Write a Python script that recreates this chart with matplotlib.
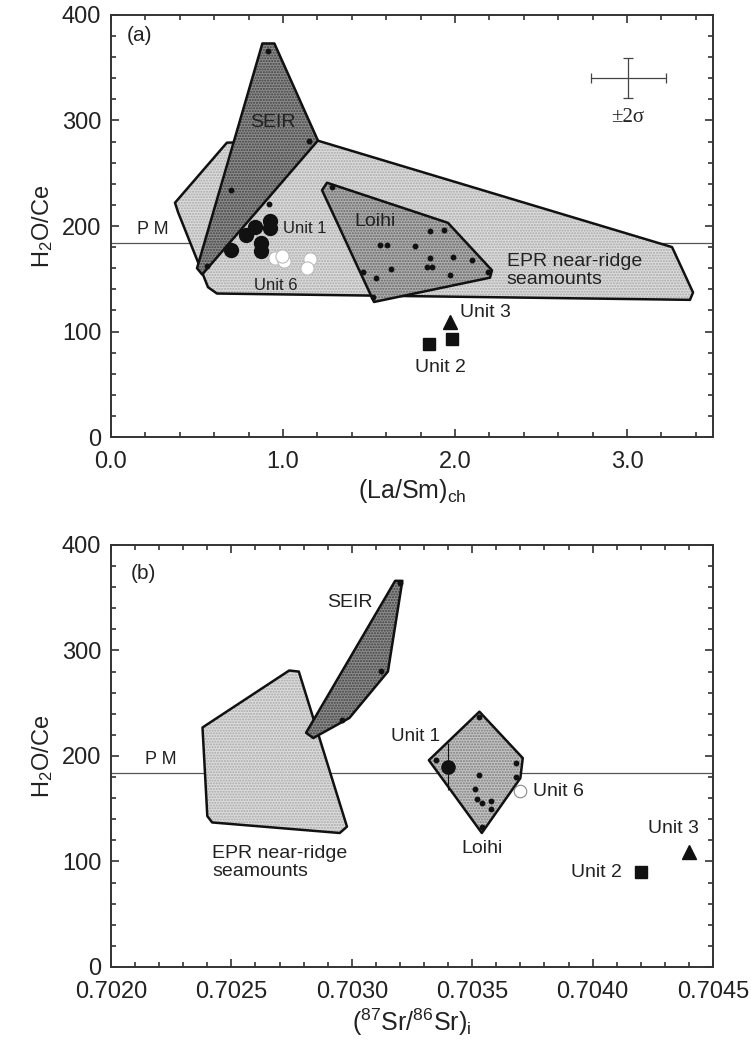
import numpy as np
import matplotlib
matplotlib.use("Agg")
import matplotlib.pyplot as plt
from matplotlib.patches import Polygon
from matplotlib.ticker import MultipleLocator, FormatStrFormatter

plt.rcParams["font.family"] = ["Liberation Sans", "DejaVu Sans"]
plt.rcParams["mathtext.fontset"] = "custom"
plt.rcParams["mathtext.rm"] = "Liberation Sans"
plt.rcParams["mathtext.it"] = "Liberation Sans:italic"
plt.rcParams["hatch.linewidth"] = 1.0

INK = "#222222"
PM = 184

# ---- panel (a): H2O/Ce vs (La/Sm)ch ----
a_epr_x = [0.674, 1.20, 3.262, 3.384, 3.366, 0.616, 0.564, 0.39, 0.372]
a_epr_y = [279, 281, 180, 137, 130, 136, 142, 213, 222]
a_seir_x = [0.88, 0.95, 1.203, 0.53, 0.50]
a_seir_y = [373, 373, 281, 154, 160]
a_loihi_x = [1.256, 1.959, 2.215, 2.203, 1.529, 1.227]
a_loihi_y = [241, 203, 158, 151, 128, 234]

a_seir_dot_x = [0.91, 1.15, 0.56, 0.70, 0.92]
a_seir_dot_y = [366, 281, 162, 234, 221]
a_loihi_dot_x = [1.855, 1.936, 1.564, 1.605, 1.767, 1.855, 1.988, 2.099, 1.837, 1.866,
                 1.628, 1.465, 1.541, 1.971, 2.192, 1.523, 1.285]
a_loihi_dot_y = [195, 196, 182, 182, 181, 170, 171, 168, 161, 161,
                 159, 156, 151, 154, 156, 133, 237]

a_unit1_x = [0.924, 0.924, 0.837, 0.785, 0.70, 0.872, 0.872]
a_unit1_y = [205, 198, 199, 191, 177, 184, 176]
a_unit6_x = [0.953, 1.006, 1.157, 1.14, 0.995]
a_unit6_y = [170, 167, 169, 160, 172]
a_unit2_x = [1.849, 1.983]
a_unit2_y = [88, 93]
a_unit3_x = [1.971]
a_unit3_y = [109]

# ---- panel (b): H2O/Ce vs (87Sr/86Sr)i ----
b_epr_x = [0.70238, 0.70274, 0.70278, 0.70298, 0.70295, 0.70242, 0.70240]
b_epr_y = [227, 281, 280, 133, 127, 137, 143]
b_seir_x = [0.70318, 0.70321, 0.70315, 0.70299, 0.70284, 0.70281]
b_seir_y = [366, 366, 280, 236, 217, 222]
b_loihi_x = [0.70353, 0.70371, 0.70370, 0.70354, 0.70332]
b_loihi_y = [242, 198, 179, 127, 196]

b_seir_dot_x = [0.70320, 0.70312, 0.70296]
b_seir_dot_y = [364, 281, 234]
b_loihi_dot_x = [0.70353, 0.70335, 0.70368, 0.70368, 0.70353, 0.70351, 0.70352,
                 0.70354, 0.70358, 0.70358, 0.70354]
b_loihi_dot_y = [237, 196, 193, 180, 182, 169, 159, 155, 157, 150, 133]

b_unit1_x, b_unit1_y, b_unit1_err = [0.70340], [190], [22]
b_unit6_x, b_unit6_y = [0.70370], [167]
b_unit2_x, b_unit2_y = [0.70420], [90]
b_unit3_x, b_unit3_y = [0.70440], [109]


def field(ax, xs, ys, face, dots, z):
    pts = np.column_stack([xs, ys])
    ax.add_patch(Polygon(pts, closed=True, facecolor=face, edgecolor=dots,
                         hatch="......", linewidth=0, zorder=z))
    ax.add_patch(Polygon(pts, closed=True, facecolor="none", edgecolor="#111111",
                         linewidth=1.8, joinstyle="round", zorder=z + 0.1))


def style(ax):
    ax.tick_params(which="both", direction="in", top=True, right=True,
                   labelsize=17, colors=INK, width=1.1)
    ax.tick_params(which="major", length=5.5)
    ax.tick_params(which="minor", length=3.8)
    ax.tick_params(axis="x", which="both", pad=10)
    ax.tick_params(axis="y", which="both", pad=7)
    ax.set_ylim(0, 400)
    ax.yaxis.set_major_locator(MultipleLocator(100))
    ax.yaxis.set_minor_locator(MultipleLocator(20))
    for s in ax.spines.values():
        s.set_linewidth(1.4)
        s.set_color("#333333")
    ax.axhline(PM, color="#555555", lw=0.9, zorder=1.5)
    ax.set_ylabel("H$_2$O/Ce", fontsize=17, color=INK, labelpad=5)


fig = plt.figure(figsize=(7.51, 10.48), dpi=100)
ax1 = fig.add_axes([0.1478, 0.583, 0.8016, 0.4027])
ax2 = fig.add_axes([0.1478, 0.0773, 0.8016, 0.4027])

# panel (a)
style(ax1)
ax1.set_xlim(0, 3.5)
ax1.xaxis.set_major_locator(MultipleLocator(1.0))
ax1.xaxis.set_minor_locator(MultipleLocator(0.2))
ax1.xaxis.set_major_formatter(FormatStrFormatter("%.1f"))
ax1.set_xlabel("(La/Sm)$_{\\rm ch}$", fontsize=18, color=INK, labelpad=3)

field(ax1, a_epr_x, a_epr_y, "#dcdcdc", "#a8a8a8", 2)
field(ax1, a_seir_x, a_seir_y, "#8c8c8c", "#404040", 3)
field(ax1, a_loihi_x, a_loihi_y, "#b0b0b0", "#646464", 3)
ax1.plot(a_seir_dot_x, a_seir_dot_y, "o", color="#111111", ms=3.2, zorder=5)
ax1.plot(a_loihi_dot_x, a_loihi_dot_y, "o", color="#111111", ms=3.2, zorder=5)
ax1.plot(a_unit1_x, a_unit1_y, "o", color="#111111", ms=10, zorder=6)
ax1.plot(a_unit6_x, a_unit6_y, "o", mfc="white", mec="#bbbbbb", mew=0.8, ms=9.5, zorder=6)
ax1.plot(a_unit2_x, a_unit2_y, "s", color="#111111", ms=9, zorder=6)
ax1.plot(a_unit3_x, a_unit3_y, "^", color="#111111", ms=10, zorder=6)

# 2-sigma error cross
ax1.errorbar([3.006], [340], xerr=[0.218], yerr=[19], fmt="none",
             ecolor="#444444", elinewidth=0.9, capsize=3.5, capthick=0.9)
ax1.text(3.006, 303, "±2σ", fontsize=15, ha="center", va="center", color=INK,
         family=["Liberation Serif", "DejaVu Serif"])

ax1.text(0.093, 381, "(a)", fontsize=15, ha="left", va="center", color=INK)
ax1.text(0.15, 197, "P M", fontsize=13, ha="left", va="center", color=INK)
ax1.text(0.942, 298, "SEIR", fontsize=14, ha="center", va="center", color=INK, zorder=7)
ax1.text(1.535, 204, "Loihi", fontsize=14, ha="center", va="center", color=INK, zorder=7)
ax1.text(1.0, 198, "Unit 1", fontsize=12, ha="left", va="center", color=INK, zorder=7)
ax1.text(0.96, 144, "Unit 6", fontsize=12, ha="center", va="center", color=INK, zorder=7)
ax1.text(2.30, 158, "EPR near-ridge\nseamounts", fontsize=14, ha="left", va="center",
         color=INK, linespacing=1.05, zorder=7)
ax1.text(2.03, 118, "Unit 3", fontsize=14, ha="left", va="center", color=INK)
ax1.text(1.913, 66, "Unit 2", fontsize=14, ha="center", va="center", color=INK)

# panel (b)
style(ax2)
ax2.set_xlim(0.7020, 0.7045)
ax2.xaxis.set_major_locator(MultipleLocator(0.0005))
ax2.xaxis.set_minor_locator(MultipleLocator(0.0001))
ax2.xaxis.set_major_formatter(FormatStrFormatter("%.4f"))
ax2.set_xlabel("($^{87}$Sr/$^{86}$Sr)$_{\\rm i}$", fontsize=18, color=INK, labelpad=3)

field(ax2, b_epr_x, b_epr_y, "#dcdcdc", "#a8a8a8", 2)
field(ax2, b_seir_x, b_seir_y, "#8c8c8c", "#404040", 3)
field(ax2, b_loihi_x, b_loihi_y, "#c4c4c4", "#7c7c7c", 3)
ax2.plot(b_seir_dot_x, b_seir_dot_y, "o", color="#111111", ms=3.2, zorder=5)
ax2.plot(b_loihi_dot_x, b_loihi_dot_y, "o", color="#111111", ms=3.2, zorder=5)
ax2.errorbar(b_unit1_x, b_unit1_y, yerr=b_unit1_err, fmt="o", color="#111111",
             ms=9.5, elinewidth=0.8, capsize=0, zorder=6)
ax2.plot(b_unit6_x, b_unit6_y, "o", mfc="white", mec="#888888", mew=0.8, ms=9, zorder=6)
ax2.plot(b_unit2_x, b_unit2_y, "s", color="#111111", ms=8, zorder=6)
ax2.plot(b_unit3_x, b_unit3_y, "^", color="#111111", ms=10.5, zorder=6)

ax2.text(0.70208, 373, "(b)", fontsize=15, ha="left", va="center", color=INK)
ax2.text(0.70214, 197, "P M", fontsize=13, ha="left", va="center", color=INK)
ax2.text(0.70299, 345, "SEIR", fontsize=14, ha="center", va="center", color=INK)
ax2.text(0.70354, 112, "Loihi", fontsize=14, ha="center", va="center", color=INK)
ax2.text(0.703366, 218, "Unit 1", fontsize=13.5, ha="right", va="center", color=INK)
ax2.text(0.703752, 166, "Unit 6", fontsize=14, ha="left", va="center", color=INK)
ax2.text(0.704334, 131, "Unit 3", fontsize=14, ha="center", va="center", color=INK)
ax2.text(0.704122, 90, "Unit 2", fontsize=14, ha="right", va="center", color=INK)
ax2.text(0.70242, 99, "EPR near-ridge\nseamounts", fontsize=14, ha="left", va="center",
         color=INK, linespacing=1.05)

fig.savefig("out.png", dpi=100)
